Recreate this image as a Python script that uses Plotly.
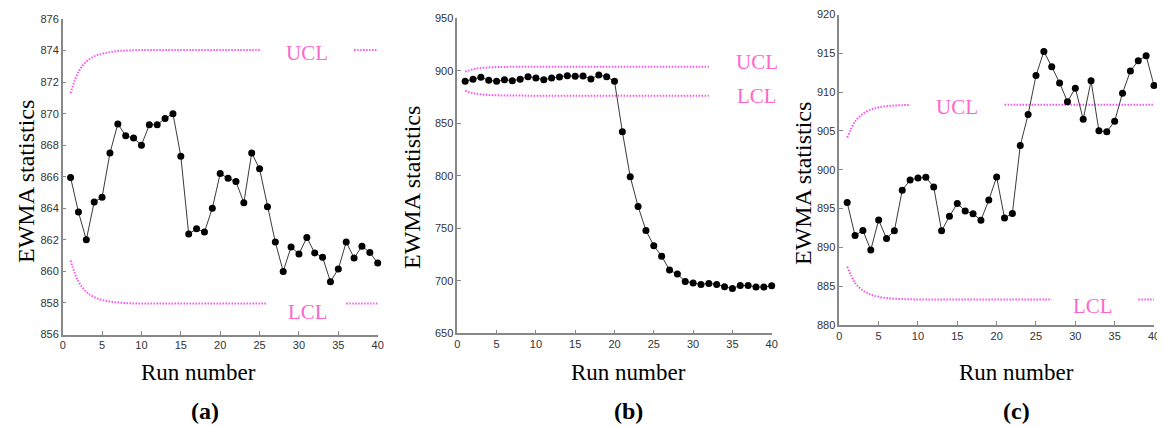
import plotly.graph_objects as go

runs = list(range(1, 41))

ewma_a = [865.96, 863.76, 862.0, 864.4, 864.7, 867.5, 869.35, 868.6, 868.45, 868.0,
          869.3, 869.3, 869.7, 870.0, 867.3, 862.37, 862.7, 862.5, 864.0, 866.2,
          865.9, 865.7, 864.35, 867.5, 866.5, 864.1, 861.86, 860.0, 861.55, 861.1,
          862.15, 861.17, 860.9, 859.35, 860.15, 861.86, 860.85, 861.6, 861.2, 860.53]
ewma_b = [890.0, 891.9, 893.8, 890.9, 890.0, 891.5, 890.6, 891.9, 894.4, 893.1,
          891.5, 893.1, 894.1, 895.4, 894.7, 895.0, 892.2, 896.0, 894.4, 890.0,
          842.0, 799.1, 770.8, 748.0, 733.4, 723.5, 710.2, 706.4, 699.4, 697.8,
          696.5, 697.5, 696.5, 694.3, 692.7, 695.5, 695.5, 694.0, 694.0, 695.2]
ewma_c = [895.79, 891.53, 892.17, 889.66, 893.53, 891.15, 892.13, 897.36, 898.68, 898.94,
          899.02, 897.79, 892.13, 894.0, 895.66, 894.68, 894.34, 893.49, 896.09, 899.06,
          893.79, 894.38, 903.11, 907.11, 912.13, 915.23, 913.28, 911.19, 908.77, 910.51,
          906.51, 911.45, 905.02, 904.89, 906.26, 909.87, 912.72, 914.04, 914.68, 910.85]

ucl_a = [871.3, 872.65, 873.3, 873.63, 873.8, 873.9, 873.97, 874.0, 874.02] + [874.04] * 31
lcl_a = [860.69, 859.35, 858.71, 858.37, 858.19, 858.09, 858.03, 857.99, 857.97] + [857.96] * 31
ucl_b = [899.22, 901.51, 902.62, 903.2, 903.51, 903.68, 903.78, 903.83, 903.86] + [903.9] * 31
lcl_b = [880.98, 878.69, 877.58, 877.0, 876.69, 876.52, 876.42, 876.37, 876.34] + [876.3] * 31
ucl_c = [904.13, 906.21, 907.21, 907.74, 908.03, 908.18, 908.27, 908.32, 908.34] + [908.38] * 31
lcl_c = [887.53, 885.45, 884.45, 883.92, 883.63, 883.48, 883.39, 883.34, 883.32] + [883.28] * 31

# runs hidden behind the limit labels (inclusive ranges)
gap_ucl = {"a": (26, 36), "b": (33, 40), "c": (10, 20)}
gap_lcl = {"a": (27, 35), "b": (33, 40), "c": (28, 37)}
# label anchor (run, value, yshift)
lab_ucl = {"a": (31, 874.04, -3), "b": (38.1, 903.9, 5), "c": (14.9, 908.38, -2)}
lab_lcl = {"a": (31.1, 857.96, -8), "b": (38.1, 876.3, 0), "c": (32.2, 883.28, -6)}

yranges = {"a": [856, 876], "b": [650, 950], "c": [880, 920]}
ydtick = {"a": 2, "b": 50, "c": 5}
panel_labels = ["(a)", "(b)", "(c)"]

# target pixel geometry in the 1165x426 window; the page body adds an 8px offset
W, H = 1165, 426
OFF = 8
FW, FH = W - OFF, H - OFF


def px(x):
    return (x - OFF) / FW


def py(y):
    return 1 - (y - OFF) / FH


xdom_px = {"a": (62.7, 377.7), "b": (457.3, 771.7), "c": (839.3, 1154.0)}
ydom_px = {"a": (19.0, 334.5), "b": (18.3, 333.3), "c": (14.5, 325.0)}
ytitle_pos = {"a": (26, 182), "b": (412, 187), "c": (803, 184)}
xtitle_pos = {"a": (198, 372), "b": (628, 372), "c": (1016, 372)}
plabel_pos = {"a": (205, 411), "b": (628, 411), "c": (1016, 411)}

data = {"a": (ewma_a, ucl_a, lcl_a), "b": (ewma_b, ucl_b, lcl_b), "c": (ewma_c, ucl_c, lcl_c)}

LIMIT_COLOR = "#ff4ff0"
TEXT_PINK = "#ff66cc"
SERIF = "Liberation Serif, Times New Roman, serif"
SANS = "Liberation Sans, Arial, sans-serif"

fig = go.Figure()
annotations = []


def masked(vals, gap):
    lo, hi = gap
    return [None if lo <= r <= hi else v for r, v in zip(runs, vals)]


for i, key in enumerate(["a", "b", "c"]):
    xa = "x" if i == 0 else f"x{i+1}"
    ya = "y" if i == 0 else f"y{i+1}"
    ew, ucl, lcl = data[key]
    for lim, gap in ((ucl, gap_ucl[key]), (lcl, gap_lcl[key])):
        fig.add_trace(go.Scatter(x=runs, y=masked(lim, gap), mode="lines", xaxis=xa, yaxis=ya,
                                 line=dict(color=LIMIT_COLOR, width=2, dash="1.5px,1.5px", shape="spline"),
                                 showlegend=False, hoverinfo="skip", cliponaxis=False))
    fig.add_trace(go.Scatter(x=runs, y=ew, mode="lines+markers", xaxis=xa, yaxis=ya,
                             line=dict(color="#3a3a3a", width=1),
                             marker=dict(color="black", size=7),
                             showlegend=False, cliponaxis=False))

    x0, x1 = xdom_px[key]
    yt, yb = ydom_px[key]
    axcommon = dict(showline=True, linecolor="#888888", linewidth=1.5, ticks="inside", ticklen=4,
                    tickcolor="#888888", showgrid=False, zeroline=False, automargin=False,
                    ticklabeloverflow="allow",
                    tickfont=dict(family=SANS, size=11, color="#333333"))
    fig.update_layout(**{
        ("xaxis" if i == 0 else f"xaxis{i+1}"): dict(domain=[px(x0), px(x1)], range=[0, 40], dtick=5,
                                                     tick0=0, anchor=ya, **axcommon),
        ("yaxis" if i == 0 else f"yaxis{i+1}"): dict(domain=[py(yb), py(yt)], range=yranges[key],
                                                     dtick=ydtick[key], tick0=yranges[key][0], anchor=xa,
                                                     **axcommon),
    })

    for lab, (lx, ly, ys) in (("UCL", lab_ucl[key]), ("LCL", lab_lcl[key])):
        annotations.append(dict(x=lx, y=ly, xref=xa, yref=ya, text=lab, showarrow=False, yshift=ys,
                                xanchor="center", yanchor="middle",
                                font=dict(family=SERIF, size=21, color=TEXT_PINK)))
    tx, ty = ytitle_pos[key]
    annotations.append(dict(x=px(tx), y=py(ty), xref="paper", yref="paper", text="EWMA statistics",
                            textangle=-90, showarrow=False, xanchor="center", yanchor="middle",
                            font=dict(family=SERIF, size=24, color="black")))
    tx, ty = xtitle_pos[key]
    annotations.append(dict(x=px(tx), y=py(ty), xref="paper", yref="paper", text="Run number",
                            showarrow=False, xanchor="center", yanchor="middle",
                            font=dict(family=SERIF, size=23, color="black")))
    tx, ty = plabel_pos[key]
    annotations.append(dict(x=px(tx), y=py(ty), xref="paper", yref="paper",
                            text=f"<b>{panel_labels[i]}</b>", xanchor="center", yanchor="middle",
                            showarrow=False, font=dict(family=SERIF, size=24, color="black")))

fig.update_layout(width=FW, height=FH, margin=dict(l=0, r=0, t=0, b=0, autoexpand=False),
                  paper_bgcolor="white", plot_bgcolor="white", annotations=annotations)

fig.write_html("out.html")
